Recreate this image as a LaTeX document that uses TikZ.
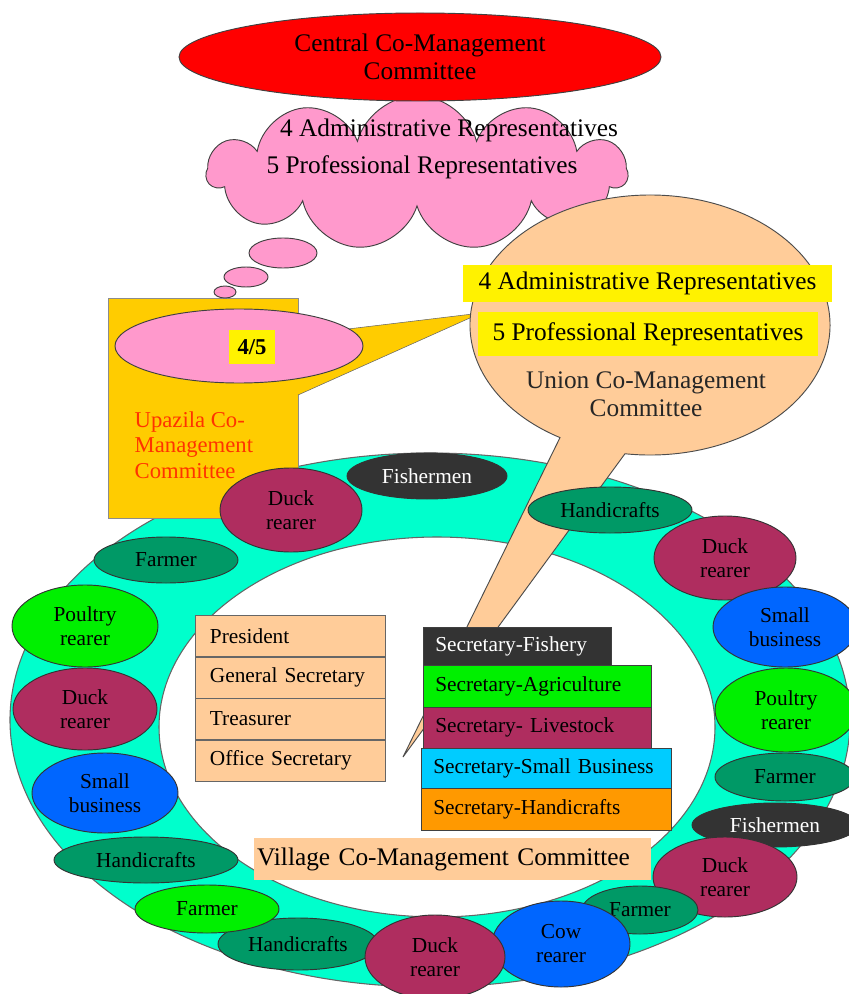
\documentclass[tikz,border=0pt]{standalone}
\usepackage{fontspec}
\setmainfont{Liberation Serif}
\usetikzlibrary{shapes.geometric,shapes.symbols,positioning}

\definecolor{ringcyan}{RGB}{0,255,204}
\definecolor{peach}{RGB}{255,204,153}
\definecolor{cloudpink}{RGB}{255,153,204}
\definecolor{upzgold}{RGB}{255,204,0}
\definecolor{upzred}{RGB}{255,51,0}
\definecolor{duckmaroon}{RGB}{175,45,95}
\definecolor{craftgreen}{RGB}{0,153,102}
\definecolor{poultgreen}{RGB}{0,240,0}
\definecolor{bizblue}{RGB}{0,102,255}
\definecolor{fishgray}{RGB}{51,51,51}
\definecolor{skycyan}{RGB}{0,204,255}
\definecolor{craftorange}{RGB}{255,153,0}

\tikzset{
  bigtext/.style={font=\fontsize{19}{21}\selectfont},
  smalltext/.style={font=\fontsize{16}{18}\selectfont},
  ringitem/.style n args={3}{ellipse, draw=black!80, line width=0.7pt, fill=#1,
    minimum width={1.5*#2pt}, minimum height={1.5*#3pt}, inner sep=0pt,
    align=center, smalltext},
  yellowlbl/.style={fill=yellow, inner sep=0pt, bigtext},
  officebox/.style={draw=black!60, fill=peach, minimum width=142.5pt, minimum height=30.75pt,
    text width=120.5pt, inner xsep=11pt, inner ysep=0pt, align=left, smalltext},
  secbox/.style={draw=black!75, fill=#1, anchor=north west, inner xsep=9pt, inner ysep=0pt,
    align=left, smalltext},
}

\begin{document}
\begin{tikzpicture}[x=0.75pt,y=0.75pt,yscale=-1,xscale=1]
\useasboundingbox (0,0) rectangle (848,994);

%Shape: Ring
\draw[draw=black!60, fill=ringcyan, even odd rule, line width=0.8pt] (430,720) ellipse [x radius=420, y radius=267] (437,727) ellipse [x radius=278, y radius=190];

%Shape: Rectangle (upazila)
\node[draw=black!45, fill=upzgold, minimum width=142.5pt, minimum height=165pt, inner sep=0pt, anchor=north west] (upzbox) at (108,298) {};
\coordinate (upztip) at (481,313);
%Shape: Callout tail
\draw[draw=black!60, fill=upzgold] (298,335) -- (upztip) -- (298,395) ;
%Shape: Ellipse
\node[ellipse, draw=black!75, line width=0.7pt, fill=cloudpink, minimum width=186pt, minimum height=55.5pt, inner sep=0pt] (upzell) at (239,346) {};
\node[fill=yellow, minimum width=35pt, minimum height=26pt, inner sep=0pt, font=\fontsize{17}{19}\selectfont\bfseries] (upzratio) at (252,347) {4/5};
\node[anchor=west, align=left, text=upzred, font=\fontsize{17}{19}\selectfont] (upztxt) at (130,445) {Upazila Co-\\Management\\Committee};

%Shape: Cloud
\node[cloud, cloud puffs=11, aspect=2.7, draw=black!75, line width=0.7pt, fill=cloudpink, minimum width=315pt, minimum height=116pt] (cloudA) at (417,173) {};
\node[ellipse, draw=black!75, line width=0.7pt, fill=cloudpink, minimum width=51pt, minimum height=22.5pt, inner sep=0pt] (bubA) at (283,253) {};
\node[ellipse, draw=black!75, line width=0.7pt, fill=cloudpink, minimum width=33pt, minimum height=15pt, inner sep=0pt] (bubB) at (246,277) {};
\node[ellipse, draw=black!75, line width=0.7pt, fill=cloudpink, minimum width=16.5pt, minimum height=9pt, inner sep=0pt] (bubC) at (225,292) {};
\node[bigtext] (cloudadmin) at (449,130) {4 Administrative Representatives};
\node[bigtext] (cloudprof) at (422,167) {5 Professional Representatives};

%Shape: Ellipse (central)
\node[ellipse, draw=black!75, line width=0.7pt, fill=red, minimum width=361.5pt, minimum height=66pt, inner sep=0pt, align=center, bigtext] (central) at (420,57) {Central Co-Management\\Committee};

%Shape: Speech balloon (union)
\draw[draw=black!70, line width=0.7pt, fill=peach] (403,757) -- (560,437.6) arc[start angle=120, end angle=458, x radius=180, y radius=130] -- cycle;
\node[yellowlbl, minimum width=276.75pt, minimum height=27.75pt] (adminlbl) at (647.5,283.5) {4 Administrative Representatives};
\node[yellowlbl, minimum width=255pt, minimum height=33pt] (proflbl) at (648,334) {5 Professional Representatives};
\node[bigtext, align=center, text=black!85] (uniontxt) at (646,394) {Union Co-Management\\Committee};

%Ring items
\node[ringitem={duckmaroon}{71}{42}] (duckA) at (291,510) {Duck\\rearer};
\node[ringitem={fishgray}{80}{23}, text=white] (fishA) at (427,476) {Fishermen};
\node[ringitem={craftgreen}{82}{23}] (craftA) at (610,510) {Handicrafts};
\node[ringitem={duckmaroon}{71}{42}] (duckB) at (725,558) {Duck\\rearer};
\node[ringitem={bizblue}{72}{40}] (bizA) at (785,627) {Small\\business};
\node[ringitem={poultgreen}{71}{42}] (poultA) at (786,710) {Poultry\\rearer};
\node[ringitem={craftgreen}{70}{24}] (farmA) at (785,777) {Farmer};
\node[ringitem={fishgray}{83}{22}, text=white] (fishB) at (775,825) {Fishermen};
\node[ringitem={duckmaroon}{72}{40}] (duckC) at (725,877) {Duck\\rearer};
\node[ringitem={craftgreen}{58}{24}] (farmB) at (640,910) {Farmer};
\node[ringitem={bizblue}{69}{43}] (cowA) at (561,944) {Cow\\rearer};
\node[ringitem={craftgreen}{80}{26}] (craftB) at (298,944) {Handicrafts};
\node[ringitem={duckmaroon}{70}{42}] (duckD) at (435,957) {Duck\\rearer};
\node[ringitem={poultgreen}{72}{24}] (farmC) at (207,909) {Farmer};
\node[ringitem={craftgreen}{92}{23}] (craftC) at (146,860) {Handicrafts};
\node[ringitem={bizblue}{73}{40}] (bizB) at (105,793) {Small\\business};
\node[ringitem={duckmaroon}{72}{41}] (duckE) at (85,709) {Duck\\rearer};
\node[ringitem={poultgreen}{73}{41}] (poultB) at (85,626) {Poultry\\rearer};
\node[ringitem={craftgreen}{72}{23}] (farmD) at (166,560) {Farmer};

%Office bearers
\node[officebox, anchor=north west] (pres) at (195,615) {President};
\node[officebox, below=0pt of pres] (gensec) {General Secretary};
\node[officebox, below=0pt of gensec] (treas) {Treasurer};
\node[officebox, below=0pt of treas] (offsec) {Office Secretary};

%Secretaries
\node[secbox=fishgray, text=white, text width=123pt, minimum height=28.5pt] (secfish) at (423,627) {Secretary-Fishery};
\node[secbox=poultgreen, text width=153pt, minimum height=31.5pt] (secagri) at (423,665) {Secretary-Agriculture};
\node[secbox=duckmaroon, text width=153pt, minimum height=30.75pt] (secstock) at (423,707) {Secretary- Livestock};
\node[secbox=skycyan, text width=169.5pt, minimum height=30pt] (secbiz) at (421,748) {Secretary-Small Business};
\node[secbox=craftorange, text width=169.5pt, minimum height=31.5pt] (seccraft) at (421,788) {Secretary-Handicrafts};

%Village label
\node[fill=peach, text width=293pt, inner xsep=2.5pt, minimum height=31.5pt, align=left, bigtext] (village) at (452.5,859) {Village Co-Management Committee};
\end{tikzpicture}
\end{document}
